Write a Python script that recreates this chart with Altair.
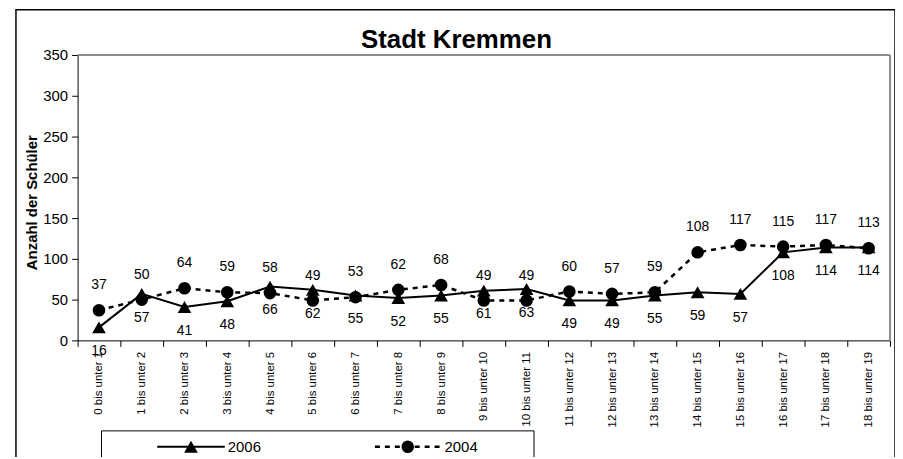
import altair as alt
import pandas as pd

# ---------------- data ----------------
categories = [
    "0 bis unter 1", "1 bis unter 2", "2 bis unter 3", "3 bis unter 4",
    "4 bis unter 5", "5 bis unter 6", "6 bis unter 7", "7 bis unter 8",
    "8 bis unter 9", "9 bis unter 10", "10 bis unter 11", "11 bis unter 12",
    "12 bis unter 13", "13 bis unter 14", "14 bis unter 15", "15 bis unter 16",
    "16 bis unter 17", "17 bis unter 18", "18 bis unter 19",
]
values_2006 = [16, 57, 41, 48, 66, 62, 55, 52, 55, 61, 63, 49, 49, 55, 59, 57, 108, 114, 114]
values_2004 = [37, 50, 64, 59, 58, 49, 53, 62, 68, 49, 49, 60, 57, 59, 108, 117, 115, 117, 113]
series_names = ["2006", "2004"]
y_ticks = [0, 50, 100, 150, 200, 250, 300, 350]
chart_title = "Stadt Kremmen"
y_title = "Anzahl der Schüler"

# ---------------- layout ----------------
W, H = 817, 287
FONT = "Liberation Sans"
LEG_Y = 394

df = pd.DataFrame({
    "Kategorie": categories * 2,
    "Jahr": [series_names[0]] * len(categories) + [series_names[1]] * len(categories),
    "Anzahl": values_2006 + values_2004,
})
d06 = df[df["Jahr"] == series_names[0]]
d04 = df[df["Jahr"] == series_names[1]]

x_enc = alt.X(
    "Kategorie:N", sort=categories,
    scale=alt.Scale(type="band", paddingInner=0, paddingOuter=0),
    axis=alt.Axis(
        title=None, labelAngle=270, labelFont=FONT, labelFontSize=11.5,
        labelColor="black", labelPadding=5, labelOverlap=False,
        tickBand="extent", tickSize=6, tickColor="black",
        domainColor="black", domainWidth=1, grid=False,
    ),
)
y_enc = alt.Y(
    "Anzahl:Q",
    scale=alt.Scale(domain=[0, 350], nice=False),
    axis=alt.Axis(
        values=y_ticks, grid=False, title=y_title,
        titleFont=FONT, titleFontSize=15, titleFontWeight="bold", titleColor="black",
        titleAngle=270, titleAlign="center", titleBaseline="alphabetic",
        titleX=-41, titleY=148,
        labelFont=FONT, labelFontSize=15, labelColor="black", labelPadding=4,
        tickSize=6, tickColor="black", domainColor="black",
    ),
)

one = pd.DataFrame({"d": [0]})

line06 = alt.Chart(d06).mark_line(color="black", strokeWidth=2).encode(x=x_enc, y=y_enc)
pts06 = alt.Chart(d06).mark_point(shape="triangle-up", filled=True, size=190,
                                  color="black", opacity=1).encode(x=x_enc, y=y_enc)
line04 = alt.Chart(d04).mark_line(color="black", strokeWidth=2.5,
                                  strokeDash=[5, 5]).encode(x=x_enc, y=y_enc)
pts04 = alt.Chart(d04).mark_point(shape="circle", filled=True, size=160,
                                  color="black", opacity=1).encode(x=x_enc, y=y_enc)
txt06 = alt.Chart(d06).mark_text(dy=24, font=FONT, fontSize=14, color="black").encode(
    x=x_enc, y=y_enc, text="Anzahl:Q")
txt04 = alt.Chart(d04).mark_text(dy=-25, font=FONT, fontSize=14, color="black").encode(
    x=x_enc, y=y_enc, text="Anzahl:Q")

# plot area border (top and right, grey)
top_border = alt.Chart(one).mark_rule(color="#8c8c8c", strokeWidth=2).encode(
    x=alt.value(0), x2=alt.value(W), y=alt.value(0))
right_border = alt.Chart(one).mark_rule(color="#8c8c8c", strokeWidth=2).encode(
    x=alt.value(W), y=alt.value(0), y2=alt.value(H))

# outer chart frame
outer = alt.Chart(one).mark_rect(fillOpacity=0, stroke="black", strokeWidth=1.5).encode(
    x=alt.value(-62), x2=alt.value(822), y=alt.value(-45.5), y2=alt.value(440))

# title
title = alt.Chart(one).mark_text(font=FONT, fontSize=26, fontWeight="bold",
                                 color="black", baseline="alphabetic", align="center").encode(
    x=alt.value(381), y=alt.value(-7), text=alt.value(chart_title))

# legend
leg_box = alt.Chart(one).mark_rect(fillOpacity=0, stroke="black", strokeWidth=1).encode(
    x=alt.value(24), x2=alt.value(459), y=alt.value(378), y2=alt.value(450))
leg_line06 = alt.Chart(one).mark_rule(color="black", strokeWidth=2).encode(
    x=alt.value(80), x2=alt.value(148), y=alt.value(LEG_Y))
leg_pt06 = alt.Chart(one).mark_point(shape="triangle-up", filled=True, size=190,
                                     color="black", opacity=1).encode(
    x=alt.value(114), y=alt.value(LEG_Y))
leg_txt06 = alt.Chart(one).mark_text(font=FONT, fontSize=15, color="black", align="left").encode(
    x=alt.value(151), y=alt.value(LEG_Y), text=alt.value(series_names[0]))
leg_line04 = alt.Chart(one).mark_rule(color="black", strokeWidth=2.5, strokeDash=[5, 5]).encode(
    x=alt.value(299), x2=alt.value(367), y=alt.value(LEG_Y))
leg_pt04 = alt.Chart(one).mark_point(shape="circle", filled=True, size=160,
                                     color="black", opacity=1).encode(
    x=alt.value(332), y=alt.value(LEG_Y))
leg_txt04 = alt.Chart(one).mark_text(font=FONT, fontSize=15, color="black", align="left").encode(
    x=alt.value(369), y=alt.value(LEG_Y), text=alt.value(series_names[1]))

chart = alt.layer(
    line06, pts06, line04, pts04, txt06, txt04,
    top_border, right_border, outer, title,
    leg_box, leg_line06, leg_pt06, leg_txt06, leg_line04, leg_pt04, leg_txt04,
).properties(
    width=W, height=H,
    autosize=alt.AutoSizeParams(type="none"),
    padding={"left": 70, "top": 46, "right": 5, "bottom": 116},
    background="white",
).configure_view(stroke=None)

chart.save("out.html", embed_options={"renderer": "svg", "actions": False})
